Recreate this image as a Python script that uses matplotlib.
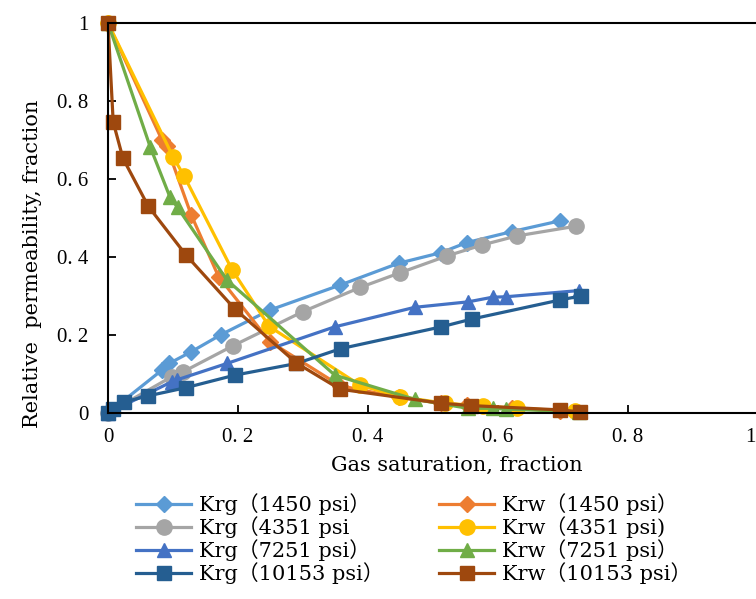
import matplotlib
matplotlib.use("Agg")
import matplotlib.pyplot as plt
from matplotlib.ticker import FixedLocator, FixedFormatter
from matplotlib.transforms import ScaledTranslation

TICKFAM = ['Liberation Serif', 'Noto Sans CJK SC']
LABFAM = ['DejaVu Serif', 'Noto Sans CJK SC']
plt.rcParams['font.family'] = TICKFAM

# ---- data ----
sg_krg1450 = [0, 0.083, 0.094, 0.128, 0.174, 0.249, 0.357, 0.447, 0.512, 0.552, 0.621, 0.696]
krg1450 = [0, 0.110, 0.127, 0.157, 0.201, 0.264, 0.328, 0.384, 0.411, 0.437, 0.465, 0.493]
sg_krw1450 = [0, 0.083, 0.090, 0.128, 0.170, 0.249, 0.357, 0.447, 0.512, 0.552, 0.621, 0.696]
krw1450 = [1, 0.700, 0.685, 0.508, 0.350, 0.183, 0.070, 0.040, 0.025, 0.020, 0.012, 0.006]

sg_krg4351 = [0, 0.098, 0.116, 0.193, 0.300, 0.388, 0.450, 0.522, 0.576, 0.629, 0.720]
krg4351 = [0, 0.093, 0.106, 0.173, 0.260, 0.322, 0.360, 0.403, 0.431, 0.454, 0.479]
sg_krw4351 = [0, 0.100, 0.117, 0.191, 0.248, 0.388, 0.449, 0.518, 0.577, 0.629, 0.718]
krw4351 = [1, 0.657, 0.608, 0.367, 0.222, 0.071, 0.042, 0.025, 0.018, 0.012, 0.005]

sg_krg7251 = [0, 0.098, 0.106, 0.183, 0.349, 0.472, 0.554, 0.592, 0.612, 0.725]
krg7251 = [0, 0.080, 0.085, 0.127, 0.221, 0.271, 0.285, 0.297, 0.298, 0.314]
sg_krw7251 = [0, 0.065, 0.095, 0.107, 0.183, 0.349, 0.472, 0.554, 0.592, 0.612, 0.725]
krw7251 = [1, 0.682, 0.555, 0.527, 0.341, 0.097, 0.035, 0.012, 0.012, 0.010, 0.003]

sg_krg10153 = [0, 0.008, 0.024, 0.062, 0.120, 0.195, 0.290, 0.358, 0.513, 0.560, 0.696, 0.727]
krg10153 = [0, 0.010, 0.028, 0.044, 0.065, 0.097, 0.127, 0.165, 0.221, 0.241, 0.290, 0.300]
sg_krw10153 = [0, 0.008, 0.023, 0.062, 0.120, 0.195, 0.290, 0.357, 0.513, 0.559, 0.695, 0.726]
krw10153 = [1, 0.746, 0.653, 0.530, 0.405, 0.267, 0.128, 0.061, 0.025, 0.019, 0.008, 0.003]

labels = ['Krg（1450 psi）', 'Krw（1450 psi）', 'Krg（4351 psi', 'Krw（4351 psi)',
          'Krg（7251 psi）', 'Krw（7251 psi）', 'Krg（10153 psi）', 'Krw（10153 psi）']
xticks = [0, 0.2, 0.4, 0.6, 0.8, 1.0]
xticklabels = ['0', '0. 2', '0. 4', '0. 6', '0. 8', '1']
yticks = [0, 0.2, 0.4, 0.6, 0.8, 1.0]
yticklabels = ['0', '0. 2', '0. 4', '0. 6', '0. 8', '1']

series = [
    (sg_krg1450, krg1450, '#5B9BD5', 'D', 8),
    (sg_krw1450, krw1450, '#ED7D31', 'D', 8),
    (sg_krg4351, krg4351, '#A5A5A5', 'o', 11),
    (sg_krw4351, krw4351, '#FFC000', 'o', 11),
    (sg_krg7251, krg7251, '#4472C4', '^', 10),
    (sg_krw7251, krw7251, '#70AD47', '^', 10),
    (sg_krg10153, krg10153, '#255E91', 's', 10),
    (sg_krw10153, krw10153, '#9E480E', 's', 10),
]

fig = plt.figure(figsize=(7.56, 5.99), dpi=100)
ax = fig.add_axes([108/756, 1 - 413/599, 650/756, 390/599])

handles = []
for (x, y, c, m, ms), lab in zip(series, labels):
    h, = ax.plot(x, y, color=c, lw=2.3, marker=m, markersize=ms,
                 markerfacecolor=c, markeredgecolor=c, label=lab, clip_on=False)
    handles.append(h)

ax.set_xlim(0, 1)
ax.set_ylim(0, 1)
ax.xaxis.set_major_locator(FixedLocator(xticks))
ax.xaxis.set_major_formatter(FixedFormatter(xticklabels))
ax.yaxis.set_major_locator(FixedLocator(yticks))
ax.yaxis.set_major_formatter(FixedFormatter(yticklabels))
ax.tick_params(direction='in', length=6, width=1.3, labelsize=15)
ax.tick_params(axis='y', pad=14)
ax.tick_params(axis='x', pad=11)
for s in ['left', 'bottom', 'top']:
    ax.spines[s].set_linewidth(1.5)
ax.spines['right'].set_visible(False)

ax.set_xlabel('Gas saturation, fraction', fontsize=15, family=LABFAM)
ax.xaxis.set_label_coords(0.537, -0.11)
ax.set_ylabel('Relative  permeability, fraction', fontsize=15, family=LABFAM)
ax.yaxis.set_label_coords(-0.1015, 0.382)

order = [0, 2, 4, 6, 1, 3, 5, 7]
leg = fig.legend([handles[i] for i in order], [labels[i] for i in order],
                 loc='upper left', bbox_to_anchor=(136/756, 1 - 493/599), ncol=2,
                 frameon=False, prop={'family': LABFAM, 'size': 15},
                 handlelength=2.65, handletextpad=0.38,
                 columnspacing=2.65, labelspacing=0.06, borderpad=0, borderaxespad=0)

fig.canvas.draw()
last = ax.get_xticklabels()[-1]
last.set_transform(last.get_transform() + ScaledTranslation(-8/100, 0, fig.dpi_scale_trans))

fig.savefig('out.png', dpi=100)
